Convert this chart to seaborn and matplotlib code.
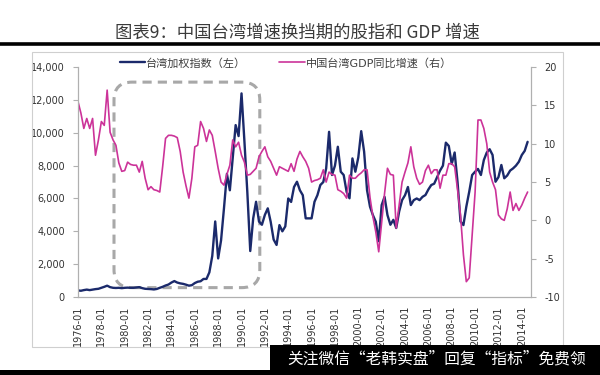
import pandas as pd
import matplotlib
matplotlib.use("Agg")
import matplotlib.pyplot as plt
from matplotlib.lines import Line2D
from matplotlib.patches import FancyBboxPatch, Rectangle
import seaborn as sns

# quarterly readings (quarter start), 1976Q1 .. 2014Q3
taiex = [
    400, 380, 420, 450,        # 1976
    420, 450, 480, 500,        # 1977
    560, 620, 690, 600,        # 1978
    560, 550, 560, 540,        # 1979
    560, 570, 560, 560,        # 1980
    580, 600, 540, 500,        # 1981
    490, 480, 460, 490,        # 1982
    560, 620, 700, 760,        # 1983
    880, 970, 880, 830,        # 1984
    800, 750, 690, 720,        # 1985
    850, 930, 960, 1100,       # 1986
    1100, 1500, 2500, 4600,    # 1987
    2350, 3450, 5400, 7500,    # 1988
    6500, 8440, 10470, 9800,   # 1989
    12400, 9500, 6400, 2800,   # 1990
    4790, 5800, 4600, 4400,    # 1991
    5000, 5400, 4580, 3500,    # 1992
    3170, 4380, 4000, 4300,    # 1993
    6000, 5790, 6700, 7020,    # 1994
    6500, 6200, 4790, 4790,    # 1995
    4790, 5800, 6200, 6820,    # 1996
    7000, 7830, 10060, 7430,   # 1997
    8000, 9150, 7630, 7430,    # 1998
    6400, 6010, 8440, 7630,    # 1999
    8500, 10100, 8850, 6500,   # 2000
    5500, 4990, 4580, 3400,    # 2001
    5600, 6100, 4990, 4400,    # 2002
    4700, 4200, 5200, 5900,    # 2003
    6200, 6700, 5600, 5900,    # 2004
    6000, 5900, 6100, 6210,    # 2005
    6550, 6820, 6900, 7300,    # 2006
    7700, 8000, 9400, 9200,    # 2007
    8100, 8800, 7000, 4600,    # 2008
    4380, 5500, 6410, 7430,    # 2009
    7630, 7800, 7430, 8340,    # 2010
    8800, 9000, 8650, 7020,    # 2011
    7300, 8040, 7230, 7400,    # 2012
    7700, 7830, 8000, 8240,    # 2013
    8650, 8900, 9450,          # 2014
]

gdp_yoy = [
    15.5, 14.0, 12.0, 13.3,    # 1976
    12.0, 13.3, 8.5, 10.5,     # 1977
    12.9, 12.4, 17.0, 11.5,    # 1978
    10.5, 9.8, 7.5, 6.4,       # 1979
    6.5, 7.6, 7.3, 7.2,        # 1980
    7.2, 6.3, 7.7, 5.5,        # 1981
    4.0, 4.4, 4.0, 3.9,        # 1982
    3.7, 7.0, 10.7, 11.1,      # 1983
    11.1, 11.0, 10.8, 9.0,     # 1984
    6.3, 4.5, 2.9, 5.5,        # 1985
    9.6, 9.8, 12.9, 12.0,      # 1986
    10.3, 11.8, 11.1, 9.0,     # 1987
    6.8, 5.0, 4.6, 6.0,        # 1988
    7.2, 10.5, 9.6, 10.2,      # 1989
    8.5, 7.6, 5.9, 6.0,        # 1990
    6.4, 6.8, 8.3, 9.0,        # 1991
    9.6, 8.3, 7.7, 6.8,        # 1992
    5.9, 7.0, 6.8, 6.6,        # 1993
    6.4, 7.4, 6.4, 8.0,        # 1994
    9.0, 8.3, 7.7, 6.8,        # 1995
    5.0, 5.2, 5.3, 5.5,        # 1996
    6.6, 5.0, 6.3, 6.0,        # 1997
    5.9, 4.0, 3.8, 3.5,        # 1998
    2.9, 5.9, 5.5, 5.5,        # 1999
    5.9, 6.2, 6.6, 6.6,        # 2000
    3.0, 0.5, -1.5, -4.1,      # 2001
    -0.2, 3.5, 6.8, 6.0,       # 2002
    5.9, -1.0, 2.0, 5.0,       # 2003
    6.3, 7.5, 9.6, 7.0,        # 2004
    5.5, 4.7, 5.0, 6.5,        # 2005
    7.2, 6.1, 6.6, 6.6,        # 2006
    4.2, 5.9, 5.9, 7.4,        # 2007
    7.4, 7.0, 4.0, 0.7,        # 2008
    -4.5, -8.0, -7.5, -2.0,    # 2009
    3.7, 13.1, 13.1, 12.0,     # 2010
    10.0, 6.3, 5.0, 4.0,       # 2011
    0.7, 0.2, 0.0, 1.5,        # 2012
    3.7, 1.3, 2.2, 1.3,        # 2013
    2.0, 2.9, 3.7,             # 2014
]

quarters = pd.date_range("1976-01-01", periods=len(taiex), freq="QS")
tick_labels = [f"{y}-01" for y in range(1976, 2015, 2)]
tick_dates = pd.to_datetime(tick_labels, format="%Y-%m")

df = pd.DataFrame({"date": quarters, "taiex": taiex, "gdp": gdp_yoy})

blue = "#1b2a6b"
pink = "#cc3399"

sns.set_style("white")
plt.rcParams["font.family"] = ["DejaVu Sans", "Noto Sans CJK SC"]
plt.rcParams["axes.unicode_minus"] = False

fig = plt.figure(figsize=(6, 3.75), dpi=100)
ax = fig.add_axes([0.13, 0.208, 0.755, 0.613])
ax2 = ax.twinx()

sns.lineplot(data=df, x="date", y="taiex", ax=ax, color=blue, linewidth=1.7)
sns.lineplot(data=df, x="date", y="gdp", ax=ax2, color=pink, linewidth=1.2)

ax.set_ylim(0, 14000)
ax2.set_ylim(-10, 20)
ax.set_xlim(pd.Timestamp("1976-01-01"), pd.Timestamp("2014-10-15"))
ax.set_yticks(range(0, 14001, 2000))
ax.set_yticklabels([f"{v:,}" for v in range(0, 14001, 2000)])
ax2.set_yticks(range(-10, 21, 5))
ax.set_xticks(tick_dates)
ax.set_xticklabels(tick_labels, rotation=90)
ax.set_xlabel("")
ax.set_ylabel("")
ax2.set_ylabel("")

for a in (ax, ax2):
    for side in ("left", "right", "bottom"):
        a.spines[side].set_color("#b0b0b0")
        a.spines[side].set_linewidth(0.8)
    a.spines["top"].set_visible(False)
    a.tick_params(axis="both", direction="out", length=3.5, width=0.8,
                  color="#b0b0b0", labelsize=7, labelcolor="#333333", pad=6)
ax.tick_params(axis="x", pad=3)
ax.grid(False)
ax2.grid(False)

# dashed rounded frame around the 1979-1991 period
frame = FancyBboxPatch((0.19, 0.233), 0.243, 0.548,
                       boxstyle="round,pad=0,rounding_size=0.03",
                       mutation_aspect=1.6, transform=fig.transFigure,
                       fill=False, edgecolor="#a8a8a8", linewidth=2.2,
                       linestyle=(0, (3, 2)), zorder=1, clip_on=False)
ax.add_patch(frame)

handles = [Line2D([], [], color=blue, linewidth=1.7),
           Line2D([], [], color=pink, linewidth=1.2)]
leg = fig.legend(handles, ["台湾加权指数（左）", "中国台湾GDP同比增速（右）"],
                 loc="center left", bbox_to_anchor=(0.183, 0.832), ncol=2,
                 frameon=False, fontsize=8, handlelength=2.3,
                 handletextpad=0.05, columnspacing=3.0, labelcolor="#404040")

# outer chart border
fig.patches.append(Rectangle((0.053, 0.075), 0.885, 0.786, transform=fig.transFigure,
                             fill=False, edgecolor="#cfcfcf", linewidth=0.8))

fig.text(0.495, 0.912, "图表9：中国台湾增速换挡期的股指和 GDP 增速",
         ha="center", va="center", fontsize=12.5, color="#3a3a3a",
         fontweight="light", family=["Noto Sans CJK SC", "DejaVu Sans"])
fig.add_artist(Line2D([0, 1], [0.883, 0.883], transform=fig.transFigure,
                      color="black", linewidth=2.6))

# bottom bar with watermark
fig.patches.append(Rectangle((0, 0), 1, 0.013, transform=fig.transFigure,
                             facecolor="black", edgecolor="none"))
fig.patches.append(Rectangle((0.45, 0), 0.55, 0.08, transform=fig.transFigure,
                             facecolor="black", edgecolor="none"))
fig.text(0.728, 0.044, "关注微信“老韩实盘”回复“指标”免费领", ha="center", va="center",
         fontsize=11.3, color="white", family=["Noto Sans CJK SC", "DejaVu Sans"])

fig.savefig("out.png", dpi=100)
